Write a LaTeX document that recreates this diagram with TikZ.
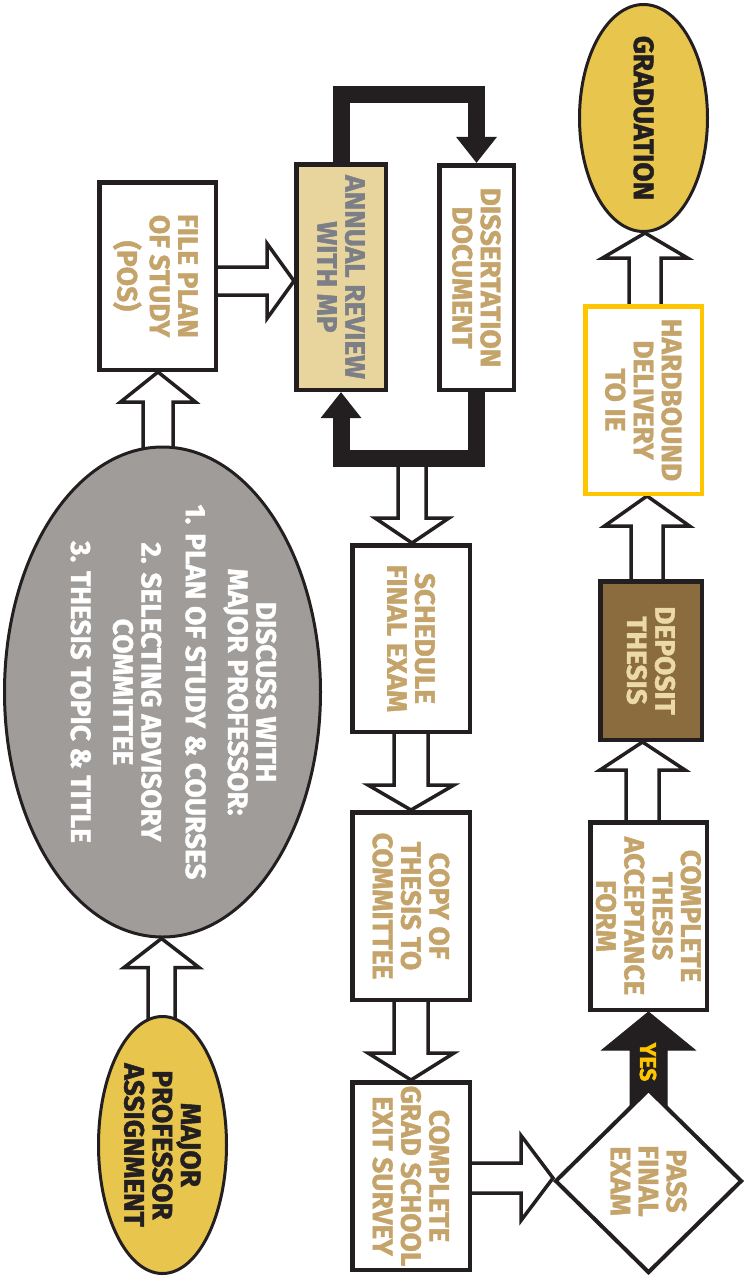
\documentclass[tikz,border=0pt]{standalone}
\usepackage{fontspec}
\setmainfont{Fira Sans}[BoldFeatures={FakeBold=1.5}]
\usepackage{graphicx}
\usetikzlibrary{shapes.geometric,calc,arrows.meta,backgrounds}

\definecolor{ink}{HTML}{231F20}
\definecolor{tan}{HTML}{C4A46A}
\definecolor{gold}{HTML}{E8C54C}
\definecolor{stone}{HTML}{A09C99}
\definecolor{sand}{HTML}{E8D59E}
\definecolor{slate}{HTML}{7D7F87}
\definecolor{bronze}{HTML}{8A6C3E}
\definecolor{cream}{HTML}{EBDAA7}
\definecolor{amber}{HTML}{FFC600}

% rotated, centred text of zero size
\newcommand{\flowtext}[1]{\vbox to 0pt{\vss\hbox to 0pt{\hss\rotatebox{-90}{%
  \raisebox{0pt}[\dimexpr\height-0.3pt\relax][\dimexpr\depth-8.4pt\relax]{%
  \begin{tabular}{@{}c@{}}#1\end{tabular}}}\hss}\vss}}

% block arrows: [style]{from}{to}{half shaft}{half head}{head length}
\newcommand{\vblock}[6][hollow]{%
  \draw[#1] let \p1=(#2), \p2=(#3), \n1={sign(\y2-\y1)} in
    (\x1-#4pt,\y1) -- (\x1-#4pt,{\y2-(\n1)*#6pt}) -- (\x1-#5pt,{\y2-(\n1)*#6pt})
    -- (\x1,\y2) -- (\x1+#5pt,{\y2-(\n1)*#6pt}) -- (\x1+#4pt,{\y2-(\n1)*#6pt}) -- (\x1+#4pt,\y1);}
\newcommand{\hblock}[6][hollow]{%
  \draw[#1] let \p1=(#2), \p2=(#3), \n1={sign(\x2-\x1)} in
    (\x1,\y1-#4pt) -- ({\x2-(\n1)*#6pt},\y1-#4pt) -- ({\x2-(\n1)*#6pt},\y1-#5pt)
    -- (\x2,\y1) -- ({\x2-(\n1)*#6pt},\y1+#5pt) -- ({\x2-(\n1)*#6pt},\y1+#4pt) -- (\x1,\y1+#4pt);}

\begin{document}
\begin{tikzpicture}[
        x=1pt, y=-1pt,
        every node/.style={font=\fontsize{28}{28}\selectfont\bfseries},
        box/.style={draw=ink, line width=4.5pt, fill=white, text=tan, inner sep=0pt,
            minimum width=116.5pt, minimum height=187.5pt},
        oval/.style={ellipse, draw=ink, line width=3pt, fill=gold, text=ink, inner sep=0pt},
        hollow/.style={draw=ink, line width=3.5pt, fill=white, line join=miter},
        solidarrow/.style={draw=ink, line width=1pt, fill=ink},
        loopline/.style={draw=ink, line width=17pt, line join=miter,
            -{Triangle[width=39pt,length=26pt]}}
    ]
    \useasboundingbox (0,0) rectangle (752,1279);

    % left column
    \node[oval, minimum width=128pt, minimum height=257pt] (assign) at (162.5,1145)
        {\flowtext{MAJOR\\PROFESSOR\\ASSIGNMENT}};
    \node[ellipse, draw=ink, line width=3pt, fill=stone, text=white, inner sep=0pt,
        minimum width=316pt, minimum height=490pt] (discuss) at (162.5,692)
        {\flowtext{DISCUSS WITH\\MAJOR PROFESSOR:\\[14pt]1. PLAN OF STUDY \& COURSES\\[16pt]
        2. SELECTING ADVISORY\\COMMITTEE\\[14pt]3. THESIS TOPIC \& TITLE\\[22pt]}};
    \node[box] (plan) at (157.5,276) {\flowtext{FILE PLAN\\OF STUDY\\(POS)}};

    % review loop
    \node[box, fill=sand, text=slate, minimum width=89.5pt, minimum height=225.5pt]
        (review) at (341,277) {\flowtext{ANNUAL REVIEW\\WITH MP}};
    \node[box, minimum width=74.5pt, minimum height=224.5pt] (diss) at (476.5,277.5)
        {\flowtext{DISSERTATION\\DOCUMENT}};
    \coordinate (looptop) at (405,95);
    \coordinate (loopbot) at (412,458);

    % middle column
    \node[box, minimum width=117.5pt, minimum height=186.5pt] (sched) at (411,638.5)
        {\flowtext{SCHEDULE\\FINAL EXAM}};
    \node[box, minimum width=117.5pt] (copy) at (411,906) {\flowtext{COPY OF\\THESIS TO\\COMMITTEE}};
    \node[box, minimum width=117.5pt] (survey) at (411,1176)
        {\flowtext{COMPLETE\\GRAD SCHOOL\\EXIT SURVEY}};

    % right column
    \node[diamond, draw=ink, line width=4pt, fill=white, text=tan, inner sep=0pt,
        minimum width=187pt, minimum height=184pt] (exam) at (648.5,1181)
        {\flowtext{PASS\\FINAL\\EXAM}};
    \node[box] (accept) at (648.5,916) {\flowtext{COMPLETE\\THESIS\\ACCEPTANCE\\FORM}};
    \node[box, fill=bronze, text=cream, minimum width=101.5pt, minimum height=158.5pt]
        (deposit) at (651,660.5) {\flowtext{DEPOSIT\\THESIS}};
    \node[box, draw=amber] (hard) at (643.5,400) {\flowtext{HARDBOUND\\DELIVERY\\TO IE}};
    \node[oval, minimum width=128pt, minimum height=227pt] (grad) at (643.5,118)
        {\flowtext{GRADUATION}};

    % block arrows
    \begin{pgfonlayer}{background}
        \vblock{$(assign.north)+(-1,5)$}{discuss.south}{13.5}{37.5}{29}
        \vblock{$(discuss.north)+(-4.5,10)$}{plan.south}{15}{37.5}{30}
        \hblock{$(plan.east)+(0,5)$}{review.west}{14}{37.5}{27}
        \vblock{loopbot}{sched.north}{14}{37}{25}
        \vblock{sched.south}{copy.north}{17}{43}{25}
        \vblock{copy.south}{survey.north}{17}{43}{27}
        \hblock{$(survey.east)+(0,2)$}{exam.west}{15}{42.5}{32}
        \vblock[solidarrow]{exam.center}{accept.south}{18.5}{46.5}{38}
        \vblock{$(accept.north)+(-6,0)$}{deposit.south}{16.5}{42.5}{28}
        \vblock{$(deposit.north)+(-4,0)$}{hard.south}{16}{42.5}{30}
        \vblock{$(hard.north)+(1.5,0)$}{grad.south}{16}{42.5}{25}
    \end{pgfonlayer}
    \node[font=\fontsize{23}{24}\selectfont\bfseries, text=amber, inner sep=0pt] (yes)
        at (648,1062) {\rotatebox{-90}{YES}};

    % loop
    \draw[loopline] (review.north) |- (looptop) -| (diss.north);
    \draw[loopline] (diss.south) |- (loopbot) -| (review.south);
\end{tikzpicture}
\end{document}
